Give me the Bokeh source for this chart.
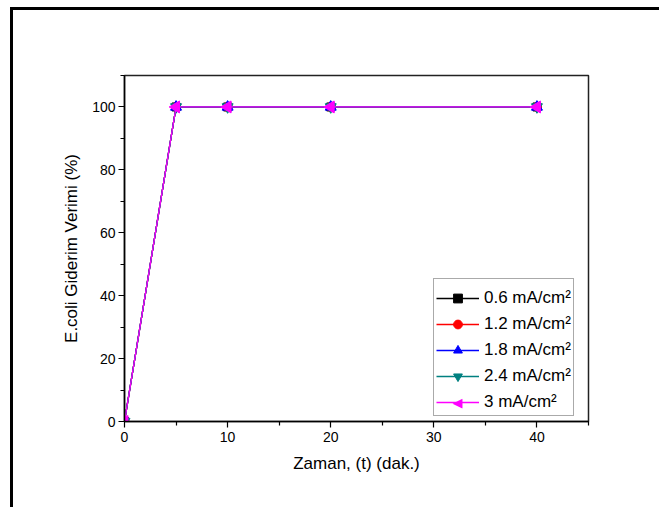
import math
from bokeh.plotting import figure
from bokeh.models import Legend, LegendItem, FixedTicker, Range1d, Label
from bokeh.embed import file_html
from bokeh.resources import INLINE

# Data
time_min = [0, 5, 10, 20, 40]
eff_06 = [0, 100, 100, 100, 100]
eff_12 = [0, 100, 100, 100, 100]
eff_18 = [0, 100, 100, 100, 100]
eff_24 = [0, 100, 100, 100, 100]
eff_30 = [0, 100, 100, 100, 100]
series_labels = ["0.6 mA/cm²", "1.2 mA/cm²", "1.8 mA/cm²", "2.4 mA/cm²", "3 mA/cm²"]
x_ticks = [0, 10, 20, 30, 40]
x_minor = [5, 15, 25, 35, 45]
y_ticks = [0, 20, 40, 60, 80, 100]
y_minor = [10, 30, 50, 70, 90, 110]

FONT = "Liberation Sans"

p = figure(width=649, height=500, output_backend="svg", toolbar_location=None,
           x_range=Range1d(0, 45), y_range=Range1d(0, 110),
           min_border_left=111, min_border_right=74, min_border_top=65, min_border_bottom=89)
p.styles = {"border-top": "3px solid black", "border-left": "3px solid black",
            "margin-top": "7px", "margin-left": "10px"}
p.grid.visible = False
p.outline_line_color = "#222222"
p.outline_line_width = 1.5

for ax in (p.xaxis[0], p.yaxis[0]):
    ax.axis_line_color = "black"
    ax.axis_line_width = 1.5
    ax.major_tick_line_color = "black"
    ax.minor_tick_line_color = "black"
    ax.major_tick_line_width = 1.2
    ax.minor_tick_line_width = 1.2
    ax.major_tick_out = 6
    ax.major_tick_in = 0
    ax.minor_tick_out = 4
    ax.minor_tick_in = 0
    ax.major_label_text_font = FONT
    ax.major_label_text_font_size = "14px"
    ax.major_label_text_color = "black"
    ax.axis_label_text_font = FONT
    ax.axis_label_text_font_size = "17px"
    ax.axis_label_text_font_style = "normal"
    ax.axis_label_text_color = "black"

p.xaxis[0].ticker = FixedTicker(ticks=x_ticks, minor_ticks=x_minor)
p.yaxis[0].ticker = FixedTicker(ticks=y_ticks, minor_ticks=y_minor)
p.xaxis[0].axis_label = "Zaman, (t) (dak.)"
p.yaxis[0].axis_label = "E.coli Giderim Verimi (%)"
p.xaxis[0].major_label_standoff = 4
p.yaxis[0].major_label_standoff = 3
p.xaxis[0].axis_label_standoff = 9
p.yaxis[0].axis_label_standoff = 8

series = [eff_06, eff_12, eff_18, eff_24, eff_30]
colors = ["black", "red", "blue", "#008080", "magenta"]
markers = ["square", "circle", "triangle", "inverted_triangle", "triangle"]
angles = [0, 0, 0, 0, math.pi / 2]
sizes = [8, 9, 11, 11, 12]

items = []
for i, (ys, c, m, a, s, lab) in enumerate(zip(series, colors, markers, angles, sizes, series_labels)):
    ln = p.line(time_min, ys, line_color=c, line_width=1.3)
    sc = p.scatter(time_min, ys, marker=m, size=s, angle=a, fill_color=c, line_color=c)
    if i < 4:
        items.append(LegendItem(label=lab, renderers=[ln, sc]))
    else:
        items.append(LegendItem(label=lab, renderers=[ln]))

# left-pointing marker for the last legend entry (legend glyphs are never rotated);
# drawn beneath the transparent legend box
left_tri = Label(x=333, y=19, x_units="screen", y_units="screen", text="◀",
                 text_align="center", text_baseline="middle", text_color="magenta",
                 text_font="DejaVu Sans", text_font_size="13px")
p.add_layout(left_tri)

legend = Legend(items=items, location=(309, 5))
legend.title = " "
legend.title_text_font_size = "6px"
legend.title_standoff = 0
legend.label_text_font = FONT
legend.label_text_font_size = "17px"
legend.label_text_color = "black"
legend.glyph_width = 43
legend.glyph_height = 22
legend.label_height = 22
legend.label_standoff = 5
legend.spacing = 4
legend.padding = 2
legend.margin = 0
legend.border_line_color = "#555555"
legend.border_line_width = 1.5
legend.background_fill_alpha = 0
p.add_layout(legend, "center")

open("out.html", "w").write(file_html(p, INLINE))
